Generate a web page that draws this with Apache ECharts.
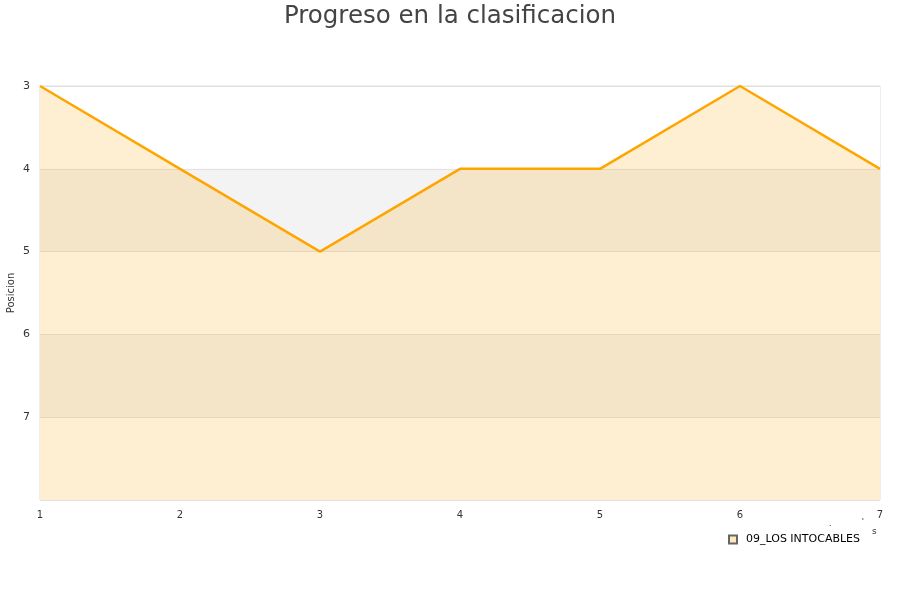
<!DOCTYPE html>
<html><head><meta charset="utf-8">
<script src="https://cdn.jsdelivr.net/npm/echarts@6/dist/echarts.min.js"></script>
<style>html,body{margin:0;padding:0;background:#fff}#c{width:900px;height:600px}</style>
</head><body><div id="c"></div>
<script>
const categories = ['1','2','3','4','5','6','7'];
const seriesName = '09_LOS INTOCABLES';
const positions = [3,4,5,4,4,3,4];
const yTicks = [3,4,5,6,7,8];

const chart = echarts.init(document.getElementById('c'));
chart.setOption({
  animation:false,
  title:{text:'Progreso en la clasificacion',left:'center',top:-1,textStyle:{fontSize:24.5,fontWeight:'normal',color:'#444',fontFamily:'DejaVu Sans'}},
  grid:{left:40,right:20,top:86,bottom:100,show:true,borderColor:'#ddd',borderWidth:1,backgroundColor:'transparent',outerBoundsMode:'none',containLabel:false},
  legend:{data:[{name:seriesName,icon:'rect'}],left:723,top:529,itemWidth:8,itemHeight:8,itemGap:10,
    textStyle:{fontSize:11,color:'#000',fontFamily:'DejaVu Sans',padding:[0,0,0,4]}},
  xAxis:{type:'category',data:categories,boundaryGap:false,
    axisLine:{show:false},axisTick:{show:false},
    axisLabel:{fontSize:10,color:'#333',margin:10,fontFamily:'DejaVu Sans'},splitLine:{show:false}},
  yAxis:{type:'value',inverse:true,min:3,max:8,interval:1,name:'Posicion',nameLocation:'middle',nameGap:24,nameMoveOverlap:false,
    nameTextStyle:{fontSize:10,color:'#333',fontFamily:'DejaVu Sans'},
    axisLine:{show:false},axisTick:{show:false},
    axisLabel:{fontSize:11,color:'#333',margin:10,fontFamily:'DejaVu Sans',formatter:v=>v===8?'':String(v)},
    splitLine:{show:true,lineStyle:{color:'#e2e2e2'}},
    splitArea:{show:true,areaStyle:{color:['#ffffff','#f3f3f3']}}},
  graphic:[{type:'text',left:872,top:527,style:{text:'s',fontSize:9,fill:'#333',fontFamily:'DejaVu Sans'}},
           {type:'text',left:829,top:519,style:{text:'.',fontSize:9,fill:'#333'}},
           {type:'text',left:862,top:517,style:{text:"'",fontSize:9,fill:'#333'}}],
  series:[{name:seriesName,type:'line',data:positions,symbol:'none',
    lineStyle:{color:'#FFA500',width:2.5},itemStyle:{color:'#FFE7C2',borderColor:'#666',borderWidth:1},
    areaStyle:{color:'rgba(255,165,0,0.25)',origin:'end'}}]
});
</script></body></html>
